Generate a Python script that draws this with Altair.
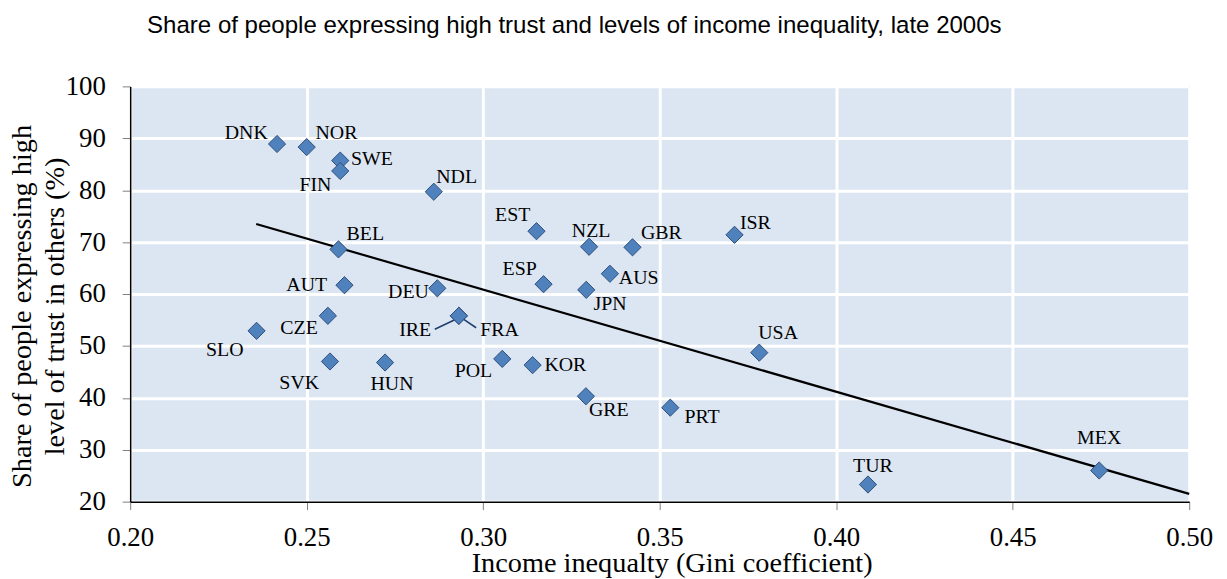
import altair as alt
import pandas as pd

countries = ["DNK", "NOR", "SWE", "FIN", "NDL", "BEL", "AUT", "DEU", "CZE", "IRE", "FRA",
             "SLO", "SVK", "HUN", "POL", "EST", "NZL", "GBR", "ISR", "AUS", "ESP", "JPN",
             "USA", "KOR", "GRE", "PRT", "TUR", "MEX"]
gini = [0.2416, 0.250, 0.2595, 0.2595, 0.286, 0.259, 0.2607, 0.287, 0.256, 0.2931, 0.2931,
        0.2358, 0.2566, 0.2722, 0.3054, 0.3151, 0.330, 0.3423, 0.3712, 0.3359, 0.3171, 0.3292,
        0.3782, 0.314, 0.3291, 0.353, 0.409, 0.4745]
trust = [88.9, 88.3, 85.7, 83.7, 79.7, 68.6, 61.7, 61.1, 55.8, 55.8, 55.8,
         52.9, 47.0, 46.8, 47.5, 72.1, 69.1, 69.0, 71.4, 63.9, 61.9, 60.8,
         48.7, 46.3, 40.3, 38.1, 23.3, 26.0]

# label placement offsets (pixels)
label_dx = [-31, 30, 32, -25, 23, 27, -38, -29, -29, -44, 41,
            -32, -31, 7, -29, -24, 2, 29, 21, 29, -24, 24,
            19, 33, 23, 32, 5, 0]
label_dy = [-11, -14, -2, 14, -15, -15, 0, 4, 12, 14, 14,
            19, 22, 22, 12, -16, -16, -14, -12, 4, -15, 14,
            -20, 0, 14, 9, -19, -33]

trend_x = [0.2357, 0.50]
trend_y = [73.5, 21.5]

leader_x = [0.2863, 0.2980]
leader_y = [53.2, 53.5]
leader_x2 = [0.2921, 0.2945]
leader_y2 = [55.1, 55.1]

x_ticks = [0.20, 0.25, 0.30, 0.35, 0.40, 0.45, 0.50]
y_ticks = [20, 30, 40, 50, 60, 70, 80, 90, 100]

W, H = 1066, 418
X0, X1 = 0.20, 0.50
Y0, Y1 = 20, 100
px_per_x = W / (X1 - X0)
px_per_y = H / (Y1 - Y0)

SERIF = "Liberation Serif"
SANS = "Liberation Sans"

pts = pd.DataFrame({"country": countries, "gini": gini, "trust": trust,
                    "dx": label_dx, "dy": label_dy})
trend = pd.DataFrame({"gini": trend_x, "trust": trend_y})
leaders = pd.DataFrame({"x": leader_x, "y": leader_y, "x2": leader_x2, "y2": leader_y2})

xscale = alt.Scale(domain=[X0, X1], nice=False, zero=False)
yscale = alt.Scale(domain=[Y0, Y1], nice=False, zero=False)

xaxis = alt.Axis(values=x_ticks, format=".2f", title="Income inequalty (Gini coefficient)",
                 labelFont=SERIF, labelFontSize=27, titleFont=SERIF,
                 titleX=545, titleY=47, titleAlign="center", titleBaseline="top")
yaxis = alt.Axis(values=y_ticks, format="d",
                 labelFont=SERIF, labelFontSize=27, titleFont=SERIF,
                 title=["Share of people expressing high", "level of trust in others (%)"],
                 titleX=-94, titleY=221, titleAlign="center", titleAngle=-90,
                 titleBaseline="bottom", titleLineHeight=33)

base = alt.Chart(pts)

points = base.mark_point(shape="diamond", filled=True, size=300, fill="#4f81bd",
                         stroke="#2f4f7a", strokeWidth=1, opacity=1).encode(
    x=alt.X("gini:Q", scale=xscale, axis=xaxis),
    y=alt.Y("trust:Q", scale=yscale, axis=yaxis),
)

labels = base.transform_calculate(
    lx=f"datum.gini + datum.dx / {px_per_x}",
    ly=f"datum.trust - datum.dy / {px_per_y}",
).mark_text(font=SERIF, fontSize=20, color="black",
            align="center", baseline="middle").encode(
    x=alt.X("lx:Q", scale=xscale),
    y=alt.Y("ly:Q", scale=yscale),
    text="country:N",
)

trend_line = alt.Chart(trend).mark_line(color="black", strokeWidth=2.2).encode(
    x=alt.X("gini:Q", scale=xscale),
    y=alt.Y("trust:Q", scale=yscale),
)

leader_lines = alt.Chart(leaders).mark_rule(color="#1f3f6e", strokeWidth=1.6).encode(
    x=alt.X("x:Q", scale=xscale),
    y=alt.Y("y:Q", scale=yscale),
    x2="x2:Q",
    y2="y2:Q",
)

chart = alt.layer(trend_line, leader_lines, points, labels).properties(
    width=W,
    height=H,
    autosize=alt.AutoSizeParams(type="none"),
    padding={"left": 123, "top": 77, "right": 30, "bottom": 80},
    title=alt.TitleParams(
        "Share of people expressing high trust and levels of income inequality, late 2000s",
        anchor="start", frame="group", dx=17, offset=16, baseline="alphabetic",
        font=SANS, fontSize=24.2, fontWeight="normal", color="black"),
).configure(
    font=SERIF
).configure_view(
    fill="#dce6f2", stroke="#808080", strokeWidth=1
).configure_text(
    font=SERIF
).configure_axis(
    labelFont=SERIF, labelFontSize=27, labelColor="black",
    titleFont=SERIF, titleFontSize=28.5, titleFontWeight="normal", titleColor="black",
    gridColor="white", gridWidth=3, gridOpacity=1,
    domainColor="black", domainWidth=1.5,
    tickColor="#808080", tickSize=8, tickWidth=1,
).configure_axisX(
    labelPadding=15, labelFlush=False, labelOverlap=False,
).configure_axisY(
    labelPadding=17, labelOverlap=False,
)

chart.save("out.html", embed_options={"renderer": "svg", "actions": False})
